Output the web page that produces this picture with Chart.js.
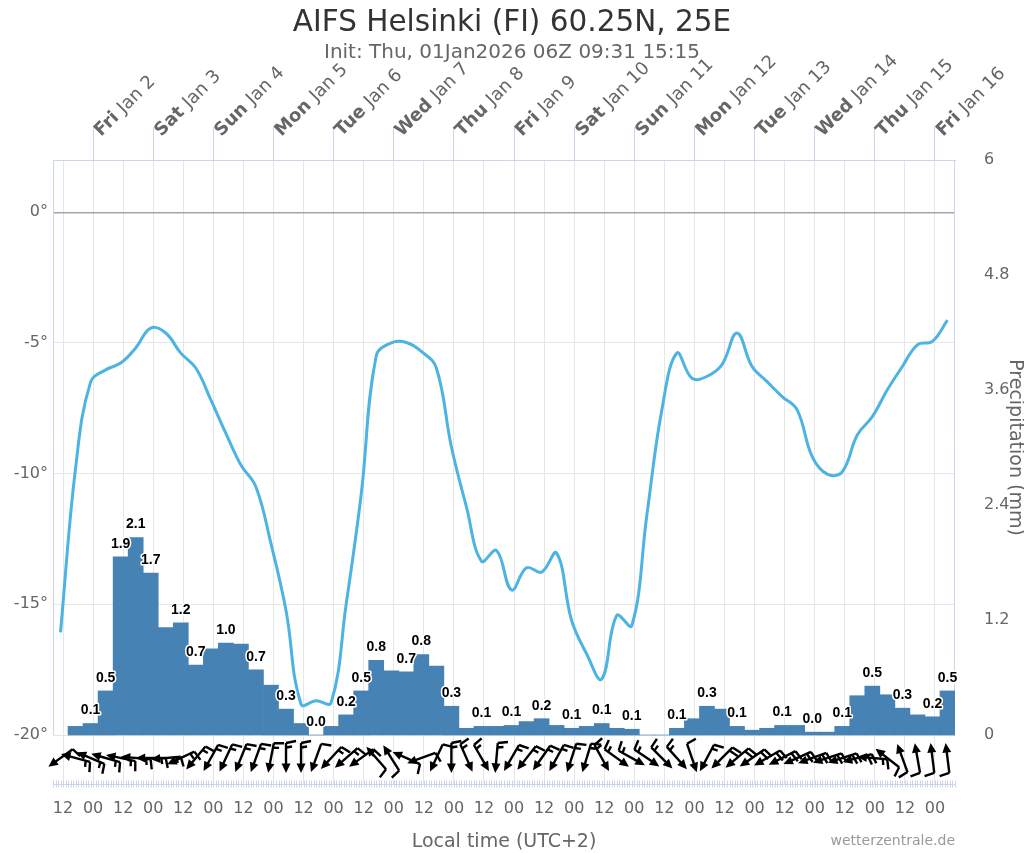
<!DOCTYPE html>
<html>
<head>
<meta charset="utf-8">
<script src="https://cdn.jsdelivr.net/npm/chart.js@4/dist/chart.umd.min.js"></script>
<style>
html,body{margin:0;padding:0;background:#fff;}
#wrap{width:1024px;height:853px;position:relative;}
</style>
</head>
<body>
<div id="wrap"><canvas id="c" width="1024" height="853"></canvas></div>
<script>
// ---------- texts ----------
const titleText = 'AIFS Helsinki (FI) 60.25N, 25E';
const subtitleText = 'Init: Thu, 01Jan2026 06Z 09:31 15:15';
const xAxisTitle = 'Local time (UTC+2)';
const precipAxisTitle = 'Precipitation (mm)';
const creditText = 'wetterzentrale.de';

// ---------- time axis (hours after 01 Jan 08:00 local = 06Z init) ----------
const axisStartHour = 0;
const axisEndHour = 360;
const bottomTickHours = [4,16,28,40,52,64,76,88,100,112,124,136,148,160,172,184,196,208,220,232,244,256,268,280,292,304,316,328,340,352];
const bottomTickLabels = ['12','00','12','00','12','00','12','00','12','00','12','00','12','00','12','00','12','00','12','00','12','00','12','00','12','00','12','00','12','00'];
const dayTickHours = [16,40,64,88,112,136,160,184,208,232,256,280,304,328,352];
const dayNames = ['Fri','Sat','Sun','Mon','Tue','Wed','Thu','Fri','Sat','Sun','Mon','Tue','Wed','Thu','Fri'];
const dayDates = ['Jan 2','Jan 3','Jan 4','Jan 5','Jan 6','Jan 7','Jan 8','Jan 9','Jan 10','Jan 11','Jan 12','Jan 13','Jan 14','Jan 15','Jan 16'];

// ---------- temperature (°C), 6-hourly ----------
const tempHours = [3,9,15,21,27,33,39,45,51,57,63,69,75,81,87,93,99,105,111,117,123,129,135,141,147,153,159,165,171,177,183,189,195,201,207,213,219,225,231,237,243,249,255,261,267,273,279,285,291,297,303,309,315,321,327,333,339,345,351,357];
const tempValues = [-16.07,-9.8,-6.5,-6.03,-5.77,-5.19,-4.43,-4.62,-5.39,-5.96,-7.18,-8.46,-9.67,-10.51,-12.68,-15.24,-18.82,-18.69,-18.76,-15.0,-10.8,-5.5,-5.0,-4.98,-5.32,-5.96,-8.97,-11.27,-13.35,-12.94,-14.45,-13.6,-13.77,-13.04,-15.62,-16.9,-17.86,-15.43,-15.82,-11.6,-7.56,-5.39,-6.35,-6.28,-5.83,-4.62,-5.9,-6.48,-7.05,-7.56,-9.35,-10.02,-9.93,-8.52,-7.82,-6.79,-5.9,-5.07,-4.94,-4.13];
const tempTickValues = [-20,-15,-10,-5,0];

// ---------- precipitation (mm / 6h) ----------
const precipHours = [9,15,21,27,33,39,45,51,57,63,69,75,81,87,93,99,105,111,117,123,129,135,141,147,153,159,165,171,177,183,189,195,201,207,213,219,225,231,237,243,249,255,261,267,273,279,285,291,297,303,309,315,321,327,333,339,345,351,357];
const precipValues = [0.09,0.12,0.46,1.86,2.06,1.69,1.12,1.17,0.73,0.90,0.96,0.95,0.68,0.52,0.27,0.12,0.0,0.09,0.21,0.46,0.78,0.67,0.66,0.84,0.72,0.30,0.07,0.09,0.09,0.10,0.14,0.17,0.10,0.07,0.09,0.12,0.07,0.06,0.0,0.0,0.07,0.17,0.30,0.27,0.09,0.05,0.07,0.10,0.10,0.03,0.03,0.09,0.41,0.51,0.42,0.28,0.21,0.19,0.46];
const precipTickValues = [0,1.2,2.4,3.6,4.8,6];
const precipTickLabels = ['0','1.2','2.4','3.6','4.8','6'];

// ---------- wind (direction wind comes from, deg; speed, kt) ----------
const windHours = tempHours;
const windDir = [54,105,113,106,102,95,90,85,65,40,29,25,22,20,11,0,0,20,43,49,54,139,148,114,70,25,0,336,330,5,30,38,35,29,18,17,331,306,299,304,315,318,341,28,45,50,55,60,63,66,70,72,72,75,95,128,160,170,173,173];
const windSpeed = [10,15,15,15,15,15,15,15,15,15,15,15,15,15,15,15,15,10,15,15,15,10,10,10,10,10,15,15,15,15,15,15,15,15,15,15,15,15,15,15,15,15,10,15,20,20,20,20,20,20,20,20,20,20,15,10,10,10,10,10];

// ---------- layout (pixels) ----------
const PANE_H = 575;     // temperature / precipitation pane
const WIND_H = 50;      // wind band below the pane
const tempMax = 2, tempLow = -20;
const tempAxisMin = tempLow - (tempMax - tempLow) * WIND_H / PANE_H;
const precipMax = 6;
const precipAxisMin = -precipMax * WIND_H / PANE_H;

const FONT = "'DejaVu Sans', sans-serif";
Chart.defaults.font.family = FONT;

function setTicks(values) {
  return function (scale) { scale.ticks = values.map(v => ({ value: v })); };
}

// ----- plugin: bar data labels with overlap hiding -----
const barLabelPlugin = {
  id: 'barLabels',
  afterDatasetsDraw(chart) {
    const meta = chart.getDatasetMeta(1);
    const ctx = chart.ctx;
    ctx.save();
    ctx.font = "bold 14px 'Liberation Sans', Arial, sans-serif";
    const items = meta.data.map((el, i) => {
      const v = precipValues[i];
      const text = v.toFixed(1);
      return { i, v, text, x: el.x, y: el.y - 13, w: ctx.measureText(text).width + 2, h: 16 };
    });
    const order = items.slice().sort((a, b) => (b.v - a.v) || (a.i - b.i));
    const shown = [];
    for (const it of order) {
      const ok = shown.every(s => Math.abs(s.x - it.x) >= (s.w + it.w) / 2 || Math.abs(s.y - it.y) >= it.h);
      if (ok) shown.push(it);
    }
    ctx.textAlign = 'center';
    ctx.textBaseline = 'middle';
    ctx.lineJoin = 'round';
    for (const s of shown) {
      ctx.strokeStyle = '#ffffff';
      ctx.lineWidth = 3;
      ctx.strokeText(s.text, s.x, s.y);
      ctx.fillStyle = '#000000';
      ctx.fillText(s.text, s.x, s.y);
    }
    ctx.restore();
  }
};

// ----- plugin: frame, wind barbs, texts -----
const decorPlugin = {
  id: 'decor',
  beforeDatasetsDraw(chart) {
    const ctx = chart.ctx, a = chart.chartArea;
    const yT = chart.scales.yT;
    const paneBottom = yT.getPixelForValue(tempLow);
    ctx.save();
    ctx.strokeStyle = '#ccd6eb';
    ctx.lineWidth = 1;
    ctx.beginPath();
    ctx.moveTo(Math.round(a.left) + 0.5, a.top);
    ctx.lineTo(Math.round(a.left) + 0.5, paneBottom);
    ctx.moveTo(Math.round(a.right) - 0.5, a.top);
    ctx.lineTo(Math.round(a.right) - 0.5, paneBottom);
    ctx.stroke();
    ctx.restore();
  },
  afterDraw(chart) {
    const ctx = chart.ctx, a = chart.chartArea;
    const x = chart.scales.x, yT = chart.scales.yT;
    const W = chart.width;
    ctx.save();

    // bottom axis line with hourly ticks
    const axY = Math.round(a.bottom) - 0.5;
    ctx.strokeStyle = '#ccd6eb';
    ctx.lineWidth = 1;
    ctx.beginPath();
    ctx.moveTo(a.left, axY); ctx.lineTo(a.right, axY);
    for (let h = axisStartHour; h <= axisEndHour; h++) {
      const px = Math.round(x.getPixelForValue(h)) + 0.5;
      ctx.moveTo(px, axY - 4); ctx.lineTo(px, axY + 3);
    }
    ctx.stroke();

    // wind barbs
    const cy = yT.getPixelForValue(tempLow) + 23;
    ctx.strokeStyle = '#000';
    ctx.fillStyle = '#000';
    ctx.lineWidth = 2.4;
    ctx.lineCap = 'butt';
    for (let i = 0; i < windHours.length; i++) {
      const cx = x.getPixelForValue(windHours[i]);
      const to = (windDir[i] + 180) * Math.PI / 180;
      const ux = Math.sin(to), uy = -Math.cos(to);
      const L = 30;
      const hx = cx + ux * L / 2, hy = cy + uy * L / 2;
      const tx = cx - ux * L / 2, ty = cy - uy * L / 2;
      ctx.beginPath();
      ctx.moveTo(tx, ty);
      ctx.lineTo(hx - ux * 5, hy - uy * 5);
      ctx.stroke();
      const px = -uy, py = ux;
      ctx.beginPath();
      ctx.moveTo(hx, hy);
      ctx.lineTo(hx - ux * 9.5 + px * 4.5, hy - uy * 9.5 + py * 4.5);
      ctx.lineTo(hx - ux * 9.5 - px * 4.5, hy - uy * 9.5 - py * 4.5);
      ctx.closePath();
      ctx.fill();
      const fx = uy, fy = -ux;
      const full = Math.floor(windSpeed[i] / 10);
      const half = (windSpeed[i] % 10) >= 5 ? 1 : 0;
      let d = 0;
      ctx.beginPath();
      for (let k = 0; k < full; k++) {
        const bx = tx + ux * d, by = ty + uy * d;
        ctx.moveTo(bx, by);
        ctx.lineTo(bx + fx * 10 - ux * 2, by + fy * 10 - uy * 2);
        d += 4.5;
      }
      if (half) {
        if (full === 0) d = 4.5;
        const bx = tx + ux * d, by = ty + uy * d;
        ctx.moveTo(bx, by);
        ctx.lineTo(bx + fx * 6 - ux * 1, by + fy * 6 - uy * 1);
      }
      ctx.stroke();
    }

    // top day labels
    const xt = chart.scales.xTop;
    ctx.fillStyle = '#666666';
    ctx.textBaseline = 'alphabetic';
    ctx.textAlign = 'left';
    for (let i = 0; i < dayTickHours.length; i++) {
      const px = xt.getPixelForValue(dayTickHours[i]);
      ctx.save();
      ctx.translate(px + 8, a.top - 23);
      ctx.rotate(-Math.PI / 4);
      ctx.font = 'bold 18px ' + FONT;
      ctx.fillText(dayNames[i], 0, 0);
      const w = ctx.measureText(dayNames[i] + ' ').width;
      ctx.font = '18px ' + FONT;
      ctx.fillText(dayDates[i], w, 0);
      ctx.restore();
    }

    // titles
    ctx.textAlign = 'center';
    ctx.textBaseline = 'middle';
    ctx.fillStyle = '#333333';
    ctx.font = '29.5px ' + FONT;
    ctx.fillText(titleText, W / 2, 23);
    ctx.fillStyle = '#666666';
    ctx.font = '20px ' + FONT;
    ctx.fillText(subtitleText, W / 2, 53);

    // axis titles
    ctx.font = '19px ' + FONT;
    ctx.fillText(xAxisTitle, (a.left + a.right) / 2, 842);
    ctx.save();
    ctx.translate(1015, (a.top + yT.getPixelForValue(tempLow)) / 2);
    ctx.rotate(Math.PI / 2);
    ctx.fillText(precipAxisTitle, 0, 0);
    ctx.restore();

    // credit
    ctx.textAlign = 'right';
    ctx.fillStyle = '#999999';
    ctx.font = '14px ' + FONT;
    ctx.fillText(creditText, a.right, 841);
    ctx.restore();
  }
};

new Chart(document.getElementById('c'), {
  type: 'bar',
  data: {
    datasets: [
      {
        type: 'line',
        label: 'Temperature',
        data: tempHours.map((h, i) => ({ x: h, y: tempValues[i] })),
        xAxisID: 'x',
        yAxisID: 'yT',
        borderColor: '#4db3e3',
        borderWidth: 3,
        pointRadius: 0,
        tension: 0.4,
        fill: false,
        order: 0
      },
      {
        type: 'bar',
        label: 'Precipitation',
        data: precipHours.map((h, i) => ({ x: h, y: precipValues[i] })),
        xAxisID: 'x',
        yAxisID: 'yP',
        backgroundColor: '#4682b4',
        borderWidth: 0,
        barPercentage: 1.0,
        categoryPercentage: 1.0,
        order: 1
      }
    ]
  },
  options: {
    responsive: false,
    animation: false,
    layout: { padding: { top: 127, left: 0, right: 0, bottom: 0 } },
    plugins: { legend: { display: false }, tooltip: { enabled: false }, title: { display: false } },
    scales: {
      x: {
        type: 'linear', position: 'bottom', min: axisStartHour, max: axisEndHour, offset: false, bounds: 'data',
        afterBuildTicks: setTicks(bottomTickHours),
        afterFit(s) { s.height = 68; },
        grid: { color: '#e6e6e6', drawTicks: false, offset: false },
        border: { display: false },
        ticks: {
          autoSkip: false, maxRotation: 0, minRotation: 0, padding: 14,
          color: '#666666', font: { size: 16 },
          callback: (v) => bottomTickLabels[bottomTickHours.indexOf(v)]
        }
      },
      xTop: {
        type: 'linear', position: 'top', min: axisStartHour, max: axisEndHour, offset: false, bounds: 'data',
        afterBuildTicks: setTicks(dayTickHours),
        afterFit(s) { s.height = 33; },
        grid: { drawOnChartArea: false, drawTicks: true, tickLength: 33, color: '#ccd6eb', offset: false },
        border: { display: true, color: '#ccd6eb' },
        ticks: { display: false }
      },
      yT: {
        type: 'linear', position: 'left', min: tempAxisMin, max: tempMax, bounds: 'data',
        afterBuildTicks: setTicks(tempTickValues),
        afterFit(s) { s.width = 53; },
        grid: {
          drawTicks: false,
          color: (c) => (c.tick && c.tick.value === 0) ? '#a6a6a6' : '#e6e6e6',
          lineWidth: (c) => (c.tick && c.tick.value === 0) ? 1.5 : 1
        },
        border: { display: false },
        ticks: { padding: 5, color: '#666666', font: { size: 16 }, callback: (v) => v + '°' }
      },
      yP: {
        type: 'linear', position: 'right', min: precipAxisMin, max: precipMax, bounds: 'data',
        afterBuildTicks: setTicks(precipTickValues),
        afterFit(s) { s.width = 69; },
        grid: { display: false, drawTicks: false },
        border: { display: false },
        ticks: { padding: 29, color: '#666666', font: { size: 16 },
          callback: (v) => precipTickLabels[precipTickValues.indexOf(v)] }
      }
    }
  },
  plugins: [decorPlugin, barLabelPlugin]
});
</script>
</body>
</html>
